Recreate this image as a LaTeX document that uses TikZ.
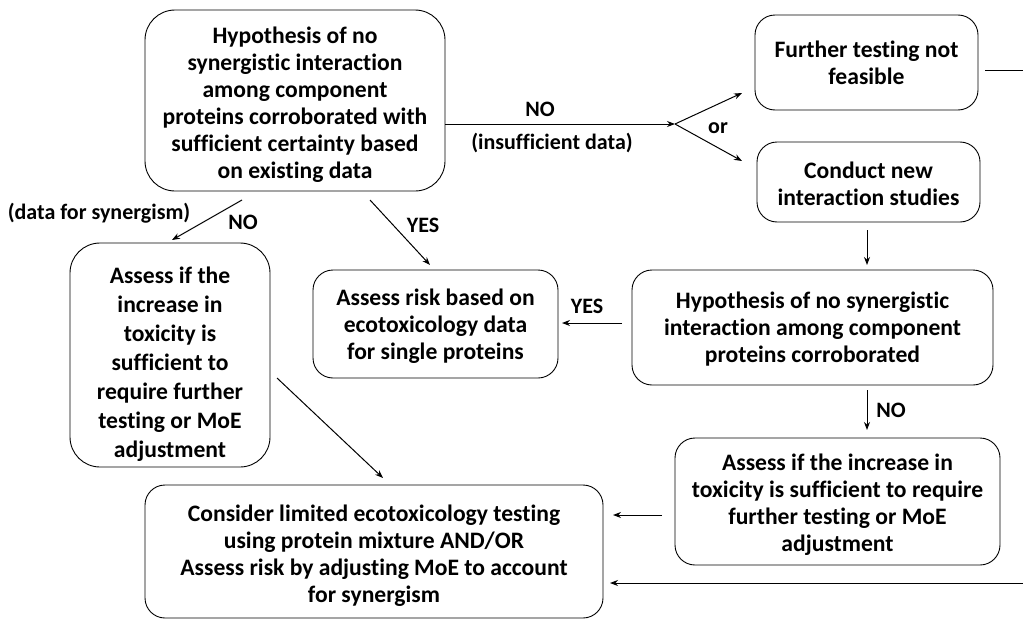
\documentclass[tikz,border=0pt]{standalone}
\usepackage{fontspec}
\setmainfont{Carlito}[Ligatures=NoCommon]
\usetikzlibrary{arrows.meta}
\newcommand{\tstrut}[1]{\rule{0pt}{#1pt}}
\begin{document}
\begin{tikzpicture}[x=1pt,y=-1pt,
  box/.style={draw, line width=0.9pt, rounded corners=#1, align=center,
    font=\bfseries\fontsize{23.6}{27}\selectfont, inner sep=0pt},
  box/.default=20pt,
  lbl/.style={font=\bfseries\fontsize{22}{24}\selectfont, inner sep=0pt},
  arr/.style={-{Stealth[length=8pt,width=6pt]}, line width=1pt},
  ln/.style={line width=1pt}]
\useasboundingbox (0,0) rectangle (1023,621);

\node[box=30pt, minimum width=300pt, minimum height=181pt] (A) at (295,100.5)
  {\tstrut{25}Hypothesis of no\\synergistic interaction\\among component\\proteins corroborated with\\sufficient certainty based\\on existing data};
\node[box, minimum width=223pt, minimum height=95pt] (B) at (866.5,62.5)
  {Further testing not\\feasible};
\node[box, minimum width=223pt, minimum height=80pt] (C) at (868.5,182)
  {\tstrut{21}Conduct new\\interaction studies};
\node[box=30pt, minimum width=200pt, minimum height=224pt,
  font=\bfseries\fontsize{23.6}{29}\selectfont] (D) at (170,355)
  {\tstrut{35}Assess if the\\increase in\\toxicity is\\sufficient to\\require further\\testing or MoE\\adjustment};
\node[box, minimum width=245pt, minimum height=108pt] (E) at (435.5,324)
  {\tstrut{20}Assess risk based on\\ecotoxicology data\\for single proteins};
\node[box, minimum width=361pt, minimum height=115pt] (F) at (812.5,327.5)
  {\tstrut{20}Hypothesis of no synergistic\\interaction among component\\proteins corroborated};
\node[box, minimum width=325pt, minimum height=127pt] (G) at (837.5,501.5)
  {\tstrut{23}Assess if the increase in\\toxicity is sufficient to require\\further testing or MoE\\adjustment};
\node[box, minimum width=458pt, minimum height=133pt] (H) at (374,551.5)
  {\tstrut{24}Consider limited ecotoxicology testing\\using protein mixture AND/OR\\Assess risk by adjusting MoE to account\\for synergism};

% junction
\coordinate (J) at (675,124);
\coordinate (Bin) at (742,93);
\coordinate (Cin) at (742,161);
\draw[arr] (A.east |- J) -- (J);
\draw[arr] (J) -- (Bin);
\draw[arr] (J) -- (Cin);
\node[lbl] (lno1) at (540,109) {NO};
\node[lbl] (lins) at (552,143) {(insufficient data)};
\node[lbl] (lor) at (718,128) {or};

% A -> D, A -> E
\coordinate (a1) at (242,200);
\coordinate (d1) at (172,240);
\draw[arr] (a1) -- (d1);
\node[lbl] (lno2) at (243,222) {NO};
\node[lbl] (ldata) at (99,213) {(data for synergism)};
\coordinate (a2) at (370,200);
\coordinate (e1) at (430,265);
\draw[arr] (a2) -- (e1);
\node[lbl] (lyes1) at (423,225) {YES};

% C -> F
\coordinate (c1) at (867,230);
\coordinate (f1) at (867,265);
\draw[arr] (c1) -- (f1);

% F -> E
\coordinate (f2) at (622,323);
\coordinate (e2) at (562,323);
\draw[arr] (f2) -- (e2);
\node[lbl] (lyes2) at (587,306) {YES};

% F -> G
\coordinate (f3) at (867,390);
\coordinate (g1) at (867,430);
\draw[arr] (f3) -- (g1);
\node[lbl] (lno3) at (891,410) {NO};

% G -> H
\coordinate (g2) at (662,515);
\coordinate (h1) at (613,515);
\draw[arr] (g2) -- (h1);

% D -> H
\coordinate (d2) at (277,378);
\coordinate (h2) at (383,478);
\draw[arr] (d2) -- (h2);

% B -> off right, return at bottom
\coordinate (b1) at (985,70);
\coordinate (rt) at (1023,70);
\draw[ln] (b1) -- (rt);
\coordinate (rb) at (1023,583);
\coordinate (h3) at (610,583);
\draw[arr] (rb) -- (h3);
\end{tikzpicture}
\end{document}
